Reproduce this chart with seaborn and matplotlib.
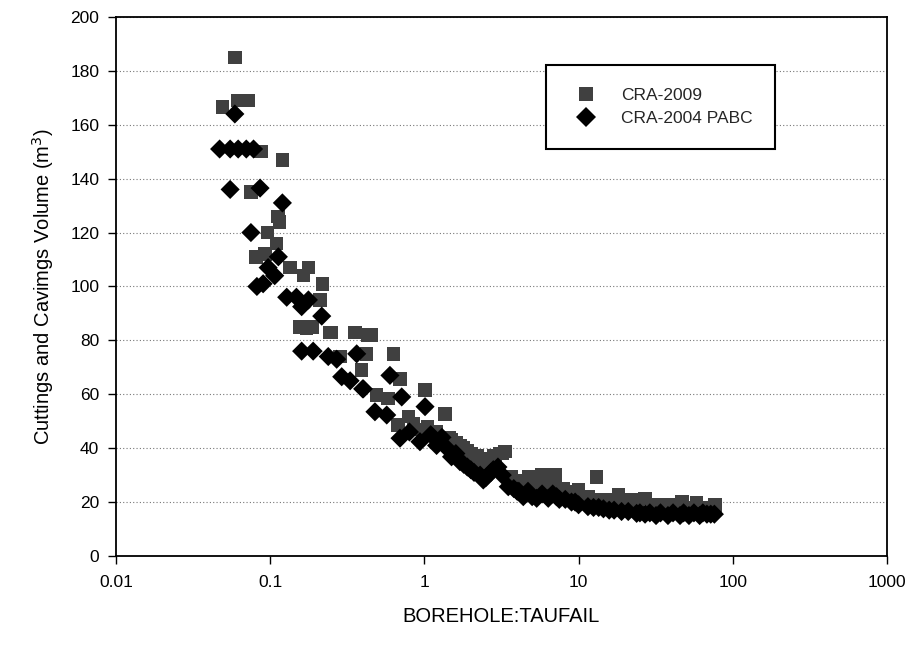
import numpy as np
import pandas as pd
import matplotlib
matplotlib.use("Agg")
import matplotlib.pyplot as plt
import seaborn as sns

# CRA-2009 (squares)
x_2009 = [0.049, 0.059, 0.062, 0.072, 0.075, 0.081, 0.087, 0.0925, 0.096, 0.11, 0.112, 0.115,
          0.12, 0.134, 0.156, 0.164, 0.172, 0.177, 0.186, 0.21, 0.218, 0.244, 0.25, 0.284,
          0.355, 0.392, 0.42, 0.43, 0.45, 0.49, 0.583, 0.63, 0.677, 0.695, 0.787, 0.85, 0.95,
          1.01, 1.05, 1.1, 1.2, 1.25, 1.36, 1.45, 1.5, 1.6, 1.7, 1.8, 1.9, 2.0, 2.2, 2.3, 2.5,
          2.6, 2.8, 2.9, 3.09, 3.2, 3.33, 3.68, 3.9, 4.2, 4.5, 4.72, 5.0, 5.3, 5.77, 6.0, 6.4,
          6.7, 7.03, 7.5, 8.0, 8.5, 9.3, 9.96, 10.5, 11.5, 12, 13.1, 14, 15.5, 16.5, 18.1, 20,
          22, 24, 27, 30, 33.7, 36, 40, 43, 46.7, 49, 52, 55, 58.3, 62, 66, 70, 76.7]
y_2009 = [166.5, 185, 169, 169, 135, 111, 150, 112, 120, 116, 126, 124,
          147, 107, 85, 104, 84.5, 107, 85, 95, 101, 83, 83, 74,
          83, 69, 75, 82, 82, 59.7, 58.5, 75, 48.6, 65.6, 51.7, 49, 47,
          61.6, 48, 45, 46, 44, 52.7, 44, 43, 42, 41, 40, 39, 38, 37, 35, 36,
          33, 37, 36, 38, 38, 38.7, 29.4, 28, 28, 27, 29.4, 29, 27, 30.1, 28, 26,
          27, 30.1, 25, 25, 24, 23, 24.5, 22, 22, 21, 29.4, 21, 21, 20, 22.6, 20,
          21, 20, 21.3, 19, 18.9, 19, 18, 19, 20.2, 18, 18, 18, 19.6, 18, 18, 17.5, 18.9]

# CRA-2004 PABC (diamonds)
x_2004 = [0.047, 0.055, 0.055, 0.059, 0.062, 0.07, 0.075, 0.078, 0.082, 0.086, 0.09, 0.097,
          0.107, 0.113, 0.12, 0.128, 0.148, 0.16, 0.16, 0.177, 0.19, 0.216, 0.238, 0.27,
          0.291, 0.33, 0.364, 0.398, 0.402, 0.478, 0.57, 0.598, 0.695, 0.713, 0.8, 0.936,
          1.01, 1.1, 1.2, 1.3, 1.4, 1.5, 1.6, 1.7, 1.8, 1.9, 2.0, 2.1, 2.3, 2.41, 2.5, 2.7,
          2.8, 3.0, 3.2, 3.5, 3.8, 4.0, 4.1, 4.38, 4.7, 5.0, 5.35, 5.8, 6.36, 6.8, 7.2, 7.5,
          8.2, 9.0, 9.5, 10, 11.5, 12.5, 13.5, 14.5, 15.8, 17, 19, 21, 23.8, 25, 27, 29,
          31.8, 34, 38, 41, 45.5, 48, 52, 56, 61, 64, 68, 72, 76]
y_2004 = [151, 151, 136, 164, 151, 151, 120, 151, 100, 136.5, 101, 107,
          104, 111, 131, 96, 96, 92.5, 76, 95, 76, 89, 74, 73,
          66.5, 65, 75, 62, 62, 53.5, 52.3, 67, 43.7, 59, 46, 42.4,
          55.4, 45, 41, 44, 40, 36.8, 38, 35, 34, 33, 32, 31, 30, 28.2, 29, 31,
          32, 33, 30, 25.7, 25, 24, 24, 22, 24, 22, 21.4, 23, 21.4, 23, 22, 21,
          21, 20, 20, 19, 18.3, 18, 18, 17.5, 17, 17, 16.5, 16.5, 15.8, 16, 15.5, 16,
          15, 16, 15, 16, 15, 16, 15, 16, 15, 16, 15.5, 15.5, 15.5]

series_names = ["CRA-2009", "CRA-2004 PABC"]
x_ticks = [0.01, 0.1, 1, 10, 100, 1000]
x_tick_labels = ["0.01", "0.1", "1", "10", "100", "1000"]
y_ticks = list(range(0, 201, 20))

df = pd.concat([
    pd.DataFrame({"x": x_2009, "y": y_2009, "series": series_names[0]}),
    pd.DataFrame({"x": x_2004, "y": y_2004, "series": series_names[1]}),
], ignore_index=True)

sns.set_theme(style="white")
plt.rcParams["font.family"] = ["Liberation Sans", "DejaVu Sans"]

fig = plt.figure(figsize=(9.14, 6.47), dpi=100)
ax = fig.add_axes([0.1269, 0.1407, 0.8435, 0.8331])

sns.scatterplot(data=df, x="x", y="y", hue="series", style="series",
                markers={series_names[0]: "s", series_names[1]: "D"},
                palette={series_names[0]: "#404040", series_names[1]: "#000000"},
                s=95, linewidth=0, ax=ax, zorder=3)
for coll, sz in zip(ax.collections, [95, 115]):
    coll.set_sizes([sz])

ax.set_xscale("log")
ax.set_xlim(0.01, 1000)
ax.set_ylim(0, 200)
ax.set_xticks(x_ticks)
ax.set_xticklabels(x_tick_labels)
ax.xaxis.set_minor_locator(matplotlib.ticker.NullLocator())
ax.set_yticks(y_ticks)
ax.tick_params(axis="both", which="major", direction="out", length=6, width=1,
               color="black", labelsize=12.5, labelcolor="black", bottom=True, left=True)
ax.tick_params(axis="x", pad=8)
ax.tick_params(axis="y", pad=6)

ax.yaxis.grid(True, linestyle=(0, (1, 2)), color="#777777", linewidth=0.8)
ax.xaxis.grid(False)
for sp in ax.spines.values():
    sp.set_color("black")
    sp.set_linewidth(1.3)

ax.set_xlabel("BOREHOLE:TAUFAIL", fontsize=14.5, color="black", labelpad=12)
ax.set_ylabel("Cuttings and Cavimgs Volume (m$^3$)", fontsize=14.5, color="black", labelpad=10)

leg = ax.legend(loc="upper left", bbox_to_anchor=(0.558, 0.911), frameon=True,
                fancybox=False, shadow=False, fontsize=12.5, borderpad=1.3,
                labelspacing=0.5, handletextpad=1.0, borderaxespad=0, title=None)
leg.get_frame().set_edgecolor("black")
leg.get_frame().set_linewidth(1.5)
leg.get_frame().set_facecolor("white")
leg.get_frame().set_alpha(1)

fig.savefig("out.png", dpi=100, facecolor="white")
